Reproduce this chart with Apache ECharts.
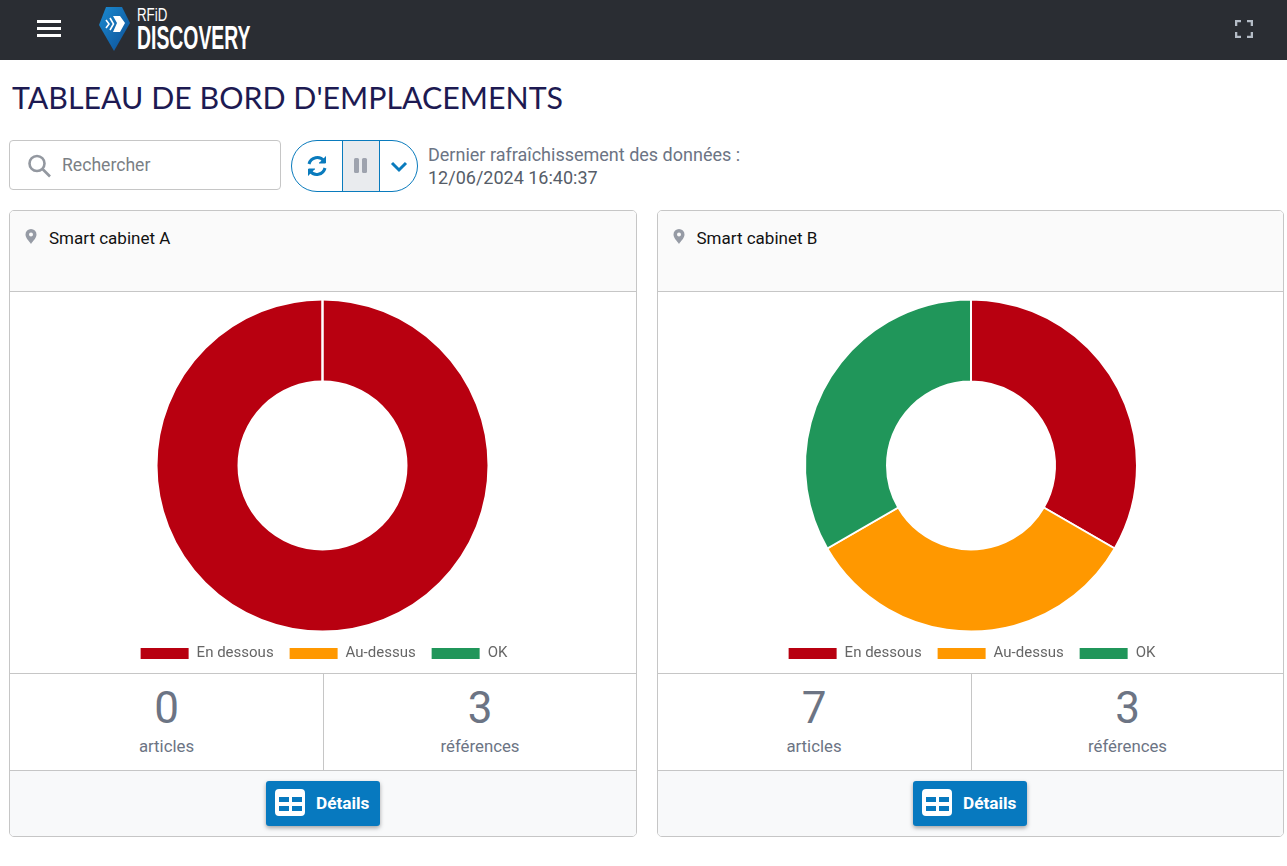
<!DOCTYPE html>
<html>
<head>
<meta charset="utf-8">
<title>Tableau de bord d'emplacements</title>
<script src="https://cdn.jsdelivr.net/npm/echarts@6/dist/echarts.min.js"></script>
<style>
html, body { margin: 0; padding: 0; background: #fff; font-family: Roboto, sans-serif; overflow: hidden; }
body { width: 1287px; height: 866px; position: relative; }
.abs { position: absolute; }
#topbar { left: 0; top: 0; width: 1287px; height: 60px; background: #2a2d33; }
#title { left: 12px; top: 78px; font-family: Lato, sans-serif; font-size: 30.35px; line-height: 38px; color: #1d1a52; white-space: nowrap; transform-origin: 0 0; }
#search { left: 9px; top: 140px; width: 270px; height: 48px; border: 1px solid #c6c6c6; border-radius: 4px; }
#search span { position: absolute; left: 52px; top: 13px; font-size: 17.6px; line-height: 22px; color: #7b7f85; }
#btns { left: 291px; top: 140px; width: 125px; height: 50px; border: 1px solid #0a7bbd; border-radius: 26px; overflow: hidden; }
#btns .mid { position: absolute; left: 50px; top: 0; width: 36px; height: 50px; background: #e9ebee; border-left: 1px solid #0a7bbd; border-right: 1px solid #0a7bbd; }
#refresh { left: 428px; top: 143px; font-size: 18px; line-height: 23px; color: #6c7484; white-space: nowrap; }
#refresh b { font-weight: 400; color: #565d68; }
.card { top: 210px; width: 626px; height: 625px; border: 1px solid #c6c6c6; border-radius: 5px; overflow: hidden; background: #fff; }
.card .head { position: absolute; left: 0; top: 0; width: 100%; height: 80px; background: #fafafa; border-bottom: 1px solid #c6c6c6; }
.card .name { position: absolute; left: 39px; top: 17px; font-size: 17px; line-height: 20px; color: #111; white-space: nowrap; }
.card .pin { position: absolute; left: 15px; top: 18px; }
.card .chart { position: absolute; left: 0; top: 81px; width: 626px; height: 381px; }
.card .stats { position: absolute; left: 0; top: 462px; width: 100%; height: 96px; border-top: 1px solid #c6c6c6; border-bottom: 1px solid #c6c6c6; }
.card .stat { position: absolute; top: 0; width: 313px; height: 96px; text-align: center; color: #6c7484; }
.card .stat + .stat { left: 313px; width: 312px; border-left: 1px solid #c6c6c6; }
.card .num { position: absolute; left: 0; right: 0; top: 8px; font-size: 44px; line-height: 52px; }
.card .lbl { position: absolute; left: 0; right: 0; top: 62px; font-size: 16.8px; line-height: 20px; }
.card .foot { position: absolute; left: 0; top: 560px; width: 100%; height: 66px; background: #f8f9fa; }
.card .btn { position: absolute; top: 10px; width: 114px; height: 45px; background: #0779bf; border-radius: 3px; box-shadow: 0 2px 4px rgba(0,0,0,0.35); color: #fff; font-weight: 700; font-size: 17.2px; line-height: 44px; }
.card .btn span { position: absolute; left: 50px; top: 0; }
.card .btn svg { position: absolute; left: 9px; top: 8px; }
</style>
</head>
<body>

<div id="topbar" class="abs">
  <svg class="abs" style="left:37px;top:20px" width="24" height="17"><rect y="0" width="24" height="3" fill="#fff"/><rect y="7" width="24" height="3" fill="#fff"/><rect y="14" width="24" height="3" fill="#fff"/></svg>
  <svg class="abs" style="left:98px;top:6px" width="34" height="46" viewBox="0 0 34 46">
    <defs><linearGradient id="pinGrad" x1="0" y1="0" x2="1" y2="1"><stop offset="0" stop-color="#1b8ad0"/><stop offset="1" stop-color="#0d4f96"/></linearGradient></defs>
    <path d="M8 1 L24 1 L32 17 L16 45 L1 19 Z" fill="url(#pinGrad)"/>
    <path d="M15 10 L22 10 L27 17 L22 26 L15 26 L19 17 Z" fill="#fff"/>
    <path d="M8 14 L11 18 L8 22 M12 12 L15.5 18 L12 24" stroke="#fff" stroke-width="1.6" fill="none"/>
  </svg>
  <div class="abs" style="left:137px;top:5px;font-family:'Liberation Sans Narrow','Liberation Sans',sans-serif;font-size:19px;line-height:20px;color:#fff;transform:scaleX(.7);transform-origin:0 0">RFiD</div>
  <div class="abs" style="left:137px;top:20px;font-family:'Liberation Sans Narrow','Liberation Sans',sans-serif;font-weight:700;font-size:34px;line-height:35px;color:#fff;transform:scaleX(.57);transform-origin:0 0;white-space:nowrap">DISCOVERY</div>
  <svg class="abs" style="left:1235px;top:20px" width="18" height="18" fill="none" stroke="#b4bcc6" stroke-width="2.6"><path d="M1 6 V1 H6 M12 1 H17 V6 M17 12 V17 H12 M6 17 H1 V12"/></svg>
</div>

<div id="title" class="abs">TABLEAU DE BORD D'EMPLACEMENTS</div>

<div id="search" class="abs">
  <svg class="abs" style="left:17px;top:13px" width="26" height="24" fill="none" stroke="#9398a0" stroke-width="2.6"><circle cx="10" cy="9.5" r="7.5"/><path d="M15.5 15 L23 22.5"/></svg>
  <span>Rechercher</span>
</div>

<div id="btns" class="abs">
  <svg class="abs" style="left:14px;top:14px" width="22" height="22" viewBox="0 0 22 22" fill="none" stroke="#0a7bbd" stroke-width="3"><path d="M3 9 A8.5 8.5 0 0 1 18 6"/><path d="M19 13 A8.5 8.5 0 0 1 4 16"/><path d="M19.5 1.5 V8 H13" fill="#0a7bbd" stroke-width="1"/><path d="M2.5 20.5 V14 H9" fill="#0a7bbd" stroke-width="1"/></svg>
  <div class="mid"><svg class="abs" style="left:11px;top:17px" width="14" height="16" fill="#9ea3ae"><rect x="0" y="0" width="5" height="15" rx="1.5"/><rect x="8" y="0" width="5" height="15" rx="1.5"/></svg></div>
  <svg class="abs" style="left:98px;top:20px" width="18" height="12" fill="none" stroke="#0a7bbd" stroke-width="3"><path d="M2 2 L9 9 L16 2"/></svg>
</div>

<div id="refresh" class="abs">Dernier rafraîchissement des données :<br><b>12/06/2024 16:40:37</b></div>

<script>
// valeurs
var statusNames = ['En dessous', 'Au-dessus', 'OK'];
var statusColors = ['#b80010', '#ff9800', '#20965a'];
var cabinetNames = ['Smart cabinet A', 'Smart cabinet B'];
var cabinetValuesA = [3, 0, 0];
var cabinetValuesB = [1, 1, 1];
var articleCounts = [0, 7];
var referenceCounts = [3, 3];

var cardLefts = [9, 656.5];
var cardWidths = [626, 625];
var btnLefts = [256, 255.5];
var pieCenterX = [312.5, 313];

function buildCard(idx) {
    var card = document.createElement('div');
    card.className = 'card abs';
    card.style.left = cardLefts[idx] + 'px';
    card.style.width = cardWidths[idx] + 'px';
    card.innerHTML =
        '<div class="head">' +
        '<svg class="pin" width="12" height="16" viewBox="0 0 12 16"><path d="M6 0 A5.5 5.5 0 0 1 11.5 5.5 C11.5 9 8 12 6 15 C4 12 .5 9 .5 5.5 A5.5 5.5 0 0 1 6 0 Z M6 3.5 A2 2 0 1 0 6 7.5 A2 2 0 1 0 6 3.5 Z" fill="#969ba5" fill-rule="evenodd"/></svg>' +
        '<div class="name">' + cabinetNames[idx] + '</div></div>' +
        '<div class="chart" id="chart' + idx + '"></div>' +
        '<div class="stats">' +
        '<div class="stat"><div class="num">' + articleCounts[idx] + '</div><div class="lbl">articles</div></div>' +
        '<div class="stat"><div class="num">' + referenceCounts[idx] + '</div><div class="lbl">références</div></div>' +
        '</div>' +
        '<div class="foot"><div class="btn" style="left:' + btnLefts[idx] + 'px"><svg width="30" height="27" viewBox="0 0 30 27"><path fill-rule="evenodd" fill="#fff" d="M4 0 H26 A4 4 0 0 1 30 4 V23 A4 4 0 0 1 26 27 H4 A4 4 0 0 1 0 23 V4 A4 4 0 0 1 4 0 Z M4 8 V13 H14 V8 Z M17 8 V13 H27 V8 Z M4 17 V22 H14 V17 Z M17 17 V22 H27 V17 Z"/></svg><span>Détails</span></div></div>';
    document.body.appendChild(card);
}

function drawChart(idx, values) {
    var chart = echarts.init(document.getElementById('chart' + idx), null, { renderer: 'canvas' });
    var pieData = [];
    for (var i = 0; i < statusNames.length; i++) {
        pieData.push({ name: statusNames[i], value: values[i] });
    }
    chart.setOption({
        animation: false,
        color: statusColors,
        legend: {
            data: statusNames,
            icon: 'rect',
            left: 'center',
            top: 349,
            itemWidth: 50,
            itemHeight: 13,
            itemGap: 14,
            textStyle: { color: '#666', fontFamily: 'Roboto', fontSize: 15, padding: [0, 0, 0, 2] }
        },
        series: [{
            type: 'pie',
            center: [pieCenterX[idx], 173.5],
            radius: [84, 166],
            startAngle: 90,
            clockwise: true,
            label: { show: false },
            labelLine: { show: false },
            itemStyle: { borderColor: '#fff', borderWidth: 2 },
            data: pieData
        }]
    });
}

buildCard(0);
buildCard(1);
drawChart(0, cabinetValuesA);
drawChart(1, cabinetValuesB);
</script>
</body>
</html>
